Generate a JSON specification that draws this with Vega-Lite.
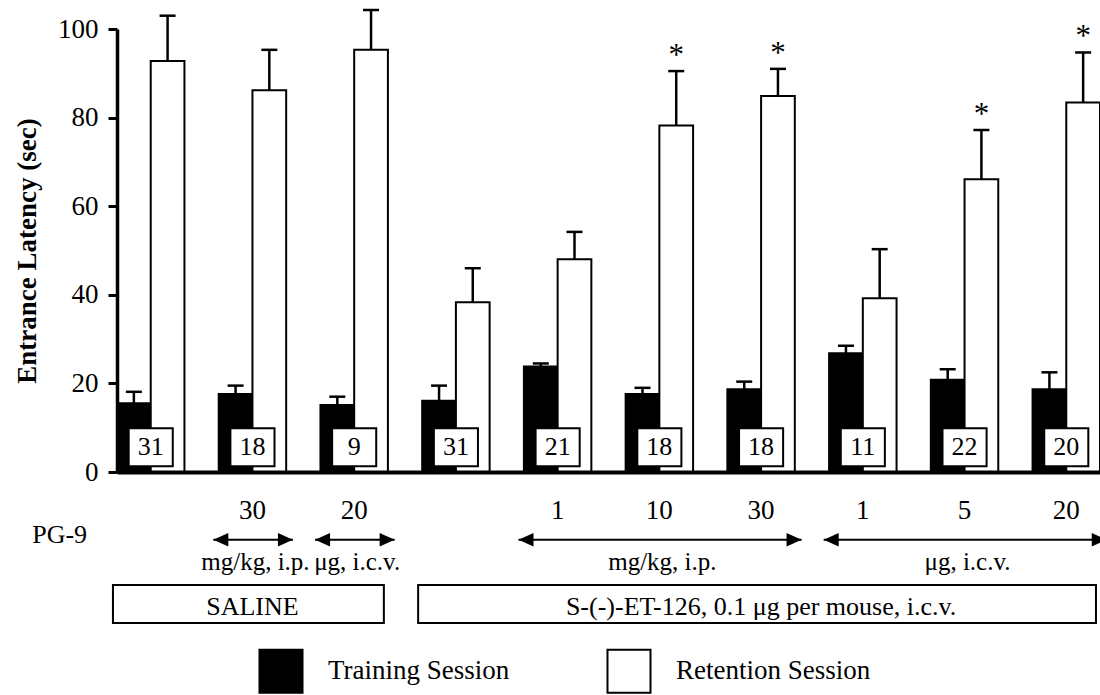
{
  "$schema": "https://vega.github.io/schema/vega-lite/v6.json",
  "width": 983,
  "height": 443,
  "autosize": {"type": "none"},
  "padding": {"left": 117, "top": 29, "right": 0, "bottom": 223},
  "background": "white",
  "config": {
    "font": "Liberation Serif",
    "view": {"stroke": null},
    "text": {"font": "Liberation Serif", "color": "black"}
  },
  "datasets": {
    "bars": [
      {"g": 1, "session": "Training Session", "value": 15.5, "upper": 18.1, "sig": ""},
      {"g": 1, "session": "Retention Session", "value": 92.8, "upper": 103.0, "sig": ""},
      {"g": 2, "session": "Training Session", "value": 17.6, "upper": 19.5, "sig": ""},
      {"g": 2, "session": "Retention Session", "value": 86.2, "upper": 95.3, "sig": ""},
      {"g": 3, "session": "Training Session", "value": 15.1, "upper": 17.0, "sig": ""},
      {"g": 3, "session": "Retention Session", "value": 95.3, "upper": 104.3, "sig": ""},
      {"g": 4, "session": "Training Session", "value": 16.1, "upper": 19.5, "sig": ""},
      {"g": 4, "session": "Retention Session", "value": 38.3, "upper": 46.0, "sig": ""},
      {"g": 5, "session": "Training Session", "value": 23.8, "upper": 24.5, "sig": ""},
      {"g": 5, "session": "Retention Session", "value": 48.0, "upper": 54.2, "sig": ""},
      {"g": 6, "session": "Training Session", "value": 17.6, "upper": 19.0, "sig": ""},
      {"g": 6, "session": "Retention Session", "value": 78.2, "upper": 90.5, "sig": "*"},
      {"g": 7, "session": "Training Session", "value": 18.7, "upper": 20.4, "sig": ""},
      {"g": 7, "session": "Retention Session", "value": 84.9, "upper": 91.0, "sig": "*"},
      {"g": 8, "session": "Training Session", "value": 26.8, "upper": 28.5, "sig": ""},
      {"g": 8, "session": "Retention Session", "value": 39.2, "upper": 50.3, "sig": ""},
      {"g": 9, "session": "Training Session", "value": 20.8, "upper": 23.2, "sig": ""},
      {"g": 9, "session": "Retention Session", "value": 66.1, "upper": 77.2, "sig": "*"},
      {"g": 10, "session": "Training Session", "value": 18.7, "upper": 22.5, "sig": ""},
      {"g": 10, "session": "Retention Session", "value": 83.4, "upper": 94.7, "sig": "*"}
    ],
    "groups": [
      {"g": 1, "n": "31", "dose": ""},
      {"g": 2, "n": "18", "dose": "30"},
      {"g": 3, "n": "9", "dose": "20"},
      {"g": 4, "n": "31", "dose": ""},
      {"g": 5, "n": "21", "dose": "1"},
      {"g": 6, "n": "18", "dose": "10"},
      {"g": 7, "n": "18", "dose": "30"},
      {"g": 8, "n": "11", "dose": "1"},
      {"g": 9, "n": "22", "dose": "5"},
      {"g": 10, "n": "20", "dose": "20"}
    ],
    "arrows": [
      {"from": 2, "to": 2, "mid": 2, "unit": "mg/kg, i.p."},
      {"from": 3, "to": 3, "mid": 3, "unit": "μg, i.c.v."},
      {"from": 5, "to": 7, "mid": 6, "unit": "mg/kg, i.p."},
      {"from": 8, "to": 10, "mid": 9, "unit": "μg, i.c.v."}
    ],
    "boxes": [
      {"from": 1, "to": 3, "mid": 2, "label": "SALINE"},
      {"from": 4, "to": 10, "mid": 7, "label": "S-(-)-ET-126, 0.1 μg per mouse, i.c.v."}
    ],
    "rowlabel": [{"label": "PG-9"}]
  },
  "layer": [
    {
      "data": {"name": "bars"},
      "mark": {"type": "bar", "stroke": "black", "strokeWidth": 2},
      "encoding": {
        "x": {
          "field": "g", "type": "ordinal",
          "scale": {"type": "band", "domain": [1, 2, 3, 4, 5, 6, 7, 8, 9, 10], "paddingInner": 0.337, "paddingOuter": 0},
          "axis": {"title": null, "labels": false, "ticks": false, "domainColor": "black", "domainWidth": 4, "zindex": 1}
        },
        "xOffset": {
          "field": "session", "type": "nominal",
          "scale": {"domain": ["Training Session", "Retention Session"], "paddingInner": 0, "paddingOuter": 0}
        },
        "y": {
          "field": "value", "type": "quantitative",
          "scale": {"domain": [0, 100], "nice": false},
          "axis": {
            "title": "Entrance Latency (sec)", "values": [0, 20, 40, 60, 80, 100], "grid": false,
            "domainColor": "black", "domainWidth": 3.5, "tickColor": "black", "tickWidth": 3, "tickSize": 9,
            "labelFont": "Liberation Serif", "labelFontSize": 27, "labelColor": "black", "labelPadding": 10,
            "titleFont": "Liberation Serif", "titleFontSize": 27, "titleFontWeight": "bold", "titleColor": "black",
            "titlePadding": 16, "zindex": 1
          }
        },
        "fill": {
          "field": "session", "type": "nominal",
          "scale": {"domain": ["Training Session", "Retention Session"], "range": ["black", "white"]},
          "legend": {
            "title": null, "orient": "bottom", "direction": "horizontal", "offset": 35, "padding": 141,
            "symbolType": "square", "symbolSize": 1850, "symbolStrokeColor": "black", "symbolStrokeWidth": 2,
            "labelFont": "Liberation Serif", "labelFontSize": 27, "labelColor": "black", "labelOffset": 24,
            "columnPadding": 93, "labelLimit": 400
          }
        }
      }
    },
    {
      "data": {"name": "bars"},
      "mark": {"type": "rule", "color": "black", "strokeWidth": 2.5},
      "encoding": {
        "x": {"field": "g", "type": "ordinal"},
        "xOffset": {"field": "session", "type": "nominal"},
        "y": {"field": "value", "type": "quantitative"},
        "y2": {"field": "upper"}
      }
    },
    {
      "data": {"name": "bars"},
      "mark": {"type": "tick", "orient": "horizontal", "size": 16, "thickness": 2.5, "color": "black", "opacity": 1},
      "encoding": {
        "x": {"field": "g", "type": "ordinal"},
        "xOffset": {"field": "session", "type": "nominal"},
        "y": {"field": "upper", "type": "quantitative"}
      }
    },
    {
      "data": {"name": "bars"},
      "mark": {"type": "text", "fontSize": 31, "baseline": "alphabetic", "dy": -6},
      "encoding": {
        "x": {"field": "g", "type": "ordinal"},
        "xOffset": {"field": "session", "type": "nominal"},
        "y": {"field": "upper", "type": "quantitative"},
        "text": {"field": "sig"}
      }
    },
    {
      "data": {"name": "groups"},
      "mark": {"type": "point", "shape": "M-1.16,-1H1.16V1H-1.16Z", "size": 1444, "filled": true, "fill": "white", "stroke": "black", "strokeWidth": 2, "opacity": 1},
      "encoding": {
        "x": {"field": "g", "type": "ordinal"},
        "y": {"datum": 5.6}
      }
    },
    {
      "data": {"name": "groups"},
      "mark": {"type": "text", "fontSize": 26, "baseline": "middle"},
      "encoding": {
        "x": {"field": "g", "type": "ordinal"},
        "y": {"datum": 5.6},
        "text": {"field": "n"}
      }
    },
    {
      "data": {"name": "groups"},
      "mark": {"type": "text", "fontSize": 27, "baseline": "alphabetic"},
      "encoding": {
        "x": {"field": "g", "type": "ordinal"},
        "y": {"datum": -10.6},
        "text": {"field": "dose"}
      }
    },
    {
      "data": {"name": "rowlabel"},
      "mark": {"type": "text", "fontSize": 26, "baseline": "alphabetic"},
      "encoding": {
        "x": {"datum": 1, "type": "ordinal", "bandPosition": -0.85},
        "y": {"datum": -16},
        "text": {"field": "label"}
      }
    },
    {
      "data": {"name": "arrows"},
      "mark": {"type": "rule", "color": "black", "strokeWidth": 2},
      "encoding": {
        "x": {"field": "from", "type": "ordinal", "bandPosition": -0.08},
        "x2": {"field": "to", "bandPosition": 1.1},
        "y": {"datum": -15.3}
      }
    },
    {
      "data": {"name": "arrows"},
      "mark": {"type": "point", "shape": "M0,0L2,-0.9L2,0.9Z", "size": 225, "filled": true, "color": "black", "opacity": 1},
      "encoding": {
        "x": {"field": "from", "type": "ordinal", "bandPosition": -0.08},
        "y": {"datum": -15.3}
      }
    },
    {
      "data": {"name": "arrows"},
      "mark": {"type": "point", "shape": "M0,0L-2,-0.9L-2,0.9Z", "size": 225, "filled": true, "color": "black", "opacity": 1},
      "encoding": {
        "x": {"field": "to", "type": "ordinal", "bandPosition": 1.1},
        "y": {"datum": -15.3}
      }
    },
    {
      "data": {"name": "arrows"},
      "mark": {"type": "text", "fontSize": 25, "baseline": "alphabetic", "dx": 3},
      "encoding": {
        "x": {"field": "mid", "type": "ordinal"},
        "y": {"datum": -22.1},
        "text": {"field": "unit"}
      }
    },
    {
      "data": {"name": "boxes"},
      "mark": {"type": "rect", "fill": "white", "stroke": "black", "strokeWidth": 2},
      "encoding": {
        "x": {"field": "from", "type": "ordinal", "bandPosition": -0.06},
        "x2": {"field": "to", "bandPosition": 0.94},
        "y": {"datum": -25.5},
        "y2": {"datum": -34.1}
      }
    },
    {
      "data": {"name": "boxes"},
      "mark": {"type": "text", "fontSize": 26, "baseline": "alphabetic"},
      "encoding": {
        "x": {"field": "mid", "type": "ordinal"},
        "y": {"datum": -32.3},
        "text": {"field": "label"}
      }
    }
  ]
}
